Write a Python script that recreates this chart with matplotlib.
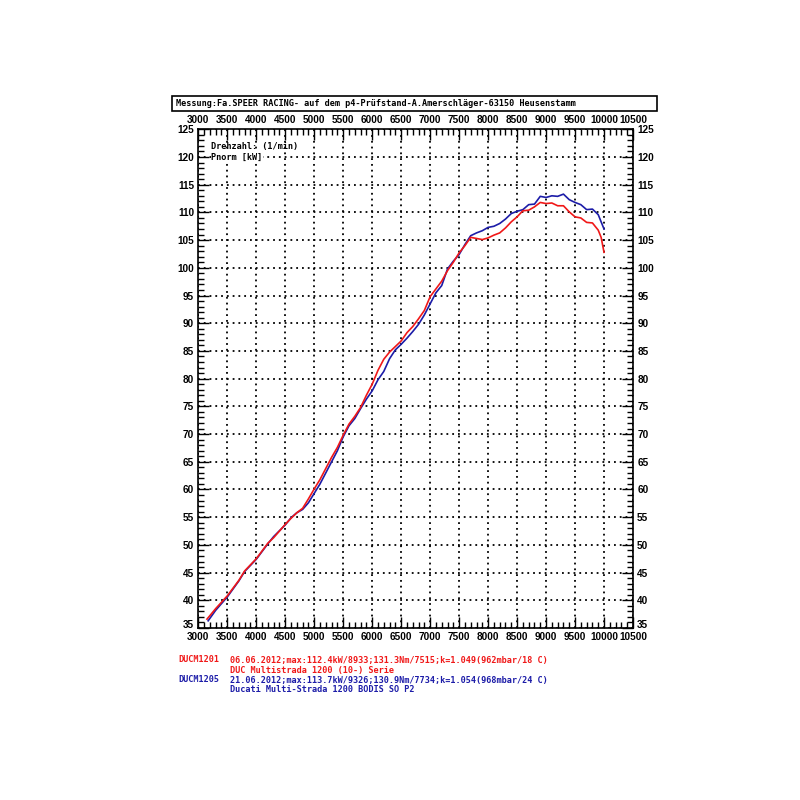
import matplotlib
matplotlib.use("Agg")
import matplotlib.pyplot as plt
from matplotlib.ticker import MultipleLocator
from matplotlib.patches import Rectangle
from matplotlib.font_manager import FontProperties
import matplotlib.transforms as mtransforms

# ---- data ----
rpm_red = [3150, 3300, 3500, 3700, 3800, 4000, 4200, 4300, 4500, 4600, 4700, 4800, 4900,
           5000, 5100, 5200, 5300, 5400, 5500, 5600, 5700, 5800, 5900, 6000, 6100, 6200,
           6300, 6400, 6500, 6600, 6700, 6800, 6900, 7000, 7100, 7200, 7300, 7400, 7500,
           7600, 7700, 7800, 7900, 8000, 8100, 8200, 8300, 8400, 8500, 8600, 8700, 8800,
           8900, 9000, 9100, 9200, 9300, 9400, 9500, 9600, 9700, 9800, 9900, 9950, 10000]
p_red = [36.6, 38.5, 40.8, 43.6, 45.3, 47.5, 50.3, 51.3, 53.7, 54.8, 55.8, 56.6, 58.3,
         60.1, 61.8, 63.8, 65.8, 67.6, 69.8, 71.8, 73.2, 74.8, 77.0, 79.0, 81.5, 83.5,
         84.8, 85.8, 86.8, 88.3, 89.4, 90.8, 92.3, 94.8, 96.2, 97.6, 99.5, 101.0, 102.7,
         104.0, 105.5, 105.3, 105.1, 105.4, 105.9, 106.3, 107.2, 108.3, 109.2, 110.3, 110.4, 111.0,
         111.8, 111.6, 111.7, 111.2, 111.2, 110.1, 109.2, 109.0, 108.2, 108.1, 106.8, 105.5, 102.8]

rpm_blue = [3170, 3300, 3500, 3700, 3800, 4000, 4200, 4300, 4500, 4600, 4700, 4800, 4900,
            5000, 5100, 5200, 5300, 5400, 5500, 5600, 5700, 5800, 5900, 6000, 6100, 6200,
            6300, 6400, 6500, 6600, 6700, 6800, 6900, 7000, 7100, 7200, 7300, 7400, 7500,
            7600, 7700, 7800, 7900, 8000, 8100, 8200, 8300, 8400, 8500, 8600, 8700, 8800,
            8900, 9000, 9100, 9200, 9300, 9400, 9500, 9600, 9700, 9800, 9900, 10000]
p_blue = [36.3, 38.2, 40.6, 43.5, 45.2, 47.4, 50.2, 51.5, 53.6, 54.9, 55.8, 56.4, 57.6,
          59.3, 61.0, 63.0, 65.0, 67.0, 69.5, 71.5, 72.8, 74.6, 76.3, 77.8, 79.8, 81.3,
          83.6, 85.2, 86.2, 87.3, 88.5, 89.8, 91.5, 93.5, 95.5, 96.8, 99.8, 101.2, 102.4,
          104.2, 105.8, 106.3, 106.7, 107.3, 107.5, 108.0, 108.8, 109.8, 110.2, 110.5, 111.4, 111.5,
          112.9, 112.7, 113.0, 112.9, 113.3, 112.3, 111.8, 111.4, 110.5, 110.6, 109.6, 107.0]

title = "Messung:Fa.SPEER RACING- auf dem p4-Prüfstand-A.Amerschläger-63150 Heusenstamm"
legend_rows = [
    ("DUCM1201", "06.06.2012;max:112.4kW/8933;131.3Nm/7515;k=1.049(962mbar/18 C)", "#f01818"),
    ("", "DUC Multistrada 1200 (10-) Serie", "#f01818"),
    ("DUCM1205", "21.06.2012;max:113.7kW/9326;130.9Nm/7734;k=1.054(968mbar/24 C)", "#1c1ca8"),
    ("", "Ducati Multi-Strada 1200 BODIS SO P2", "#1c1ca8"),
]

RED = "#f01818"
BLUE = "#1c1ca8"

fig = plt.figure(figsize=(8, 8), dpi=100)
fig.patch.set_facecolor("white")
ax = fig.add_axes([198.3 / 800, 1 - 628 / 800, (633 - 198.3) / 800, (628 - 129.3) / 800])

ax.plot(rpm_blue, p_blue, color=BLUE, lw=1.2, zorder=3)
ax.plot(rpm_red, p_red, color=RED, lw=1.2, zorder=4)

ax.set_xlim(3000, 10500)
ax.set_ylim(35, 125)
ax.xaxis.set_major_locator(MultipleLocator(500))
ax.xaxis.set_minor_locator(MultipleLocator(100))
ax.yaxis.set_major_locator(MultipleLocator(5))
ax.yaxis.set_minor_locator(MultipleLocator(1))

fp = FontProperties(family="Liberation Sans", weight="bold", size=7.2)
ax.tick_params(which="both", direction="in", top=True, right=True, bottom=True, left=True,
               labeltop=True, labelright=True, color="black", width=1.0)
ax.tick_params(which="major", length=8, pad=3)
ax.tick_params(which="minor", length=4)

fig.canvas.draw()
up = mtransforms.ScaledTranslation(0, 3.5 / 100, fig.dpi_scale_trans)
for t in ax.xaxis.get_major_ticks():
    t.label1.set_fontproperties(fp)
    t.label2.set_fontproperties(fp)
for t in ax.yaxis.get_major_ticks():
    t.label1.set_fontproperties(fp)
    t.label2.set_fontproperties(fp)
# nudge the lowest y labels up so they clear the bottom x labels
ymaj = ax.yaxis.get_major_ticks()
locs = ax.yaxis.get_majorticklocs()
for t, v in zip(ymaj, locs):
    if abs(v - 35) < 1e-6:
        t.label1.set_transform(t.label1.get_transform() + up)
        t.label2.set_transform(t.label2.get_transform() + up)

ax.grid(True, which="major", color="black", linestyle=(0, (1, 2.2)), lw=1.3, zorder=1)
for s in ax.spines.values():
    s.set_linewidth(1.2)

mono = dict(family="DejaVu Sans Mono", weight="bold", size=6.1)
ax.text(0.03, 0.965, "Drehzahl: (1/min)", transform=ax.transAxes, ha="left", va="center",
        zorder=5, **mono)
ax.text(0.03, 0.944, "Pnorm [kW]", transform=ax.transAxes, ha="left", va="center",
        zorder=5, bbox=dict(facecolor="white", edgecolor="none", pad=0.5), **mono)

# title box
fig.patches.append(Rectangle((172 / 800, 1 - 111 / 800), (657 - 172) / 800, 15 / 800,
                             transform=fig.transFigure, fill=False, edgecolor="black", lw=1.2))
fig.text(176 / 800, 1 - 103.5 / 800, title, ha="left", va="center", **mono)

# legend text
ys = [660, 670, 680, 690]
for (code, txt, col), y in zip(legend_rows, ys):
    if code:
        fig.text(178 / 800, 1 - y / 800, code, ha="left", va="center", color=col, **mono)
    fig.text(230 / 800, 1 - y / 800, txt, ha="left", va="center", color=col, **mono)

fig.savefig("out.png", dpi=100, facecolor="white")
